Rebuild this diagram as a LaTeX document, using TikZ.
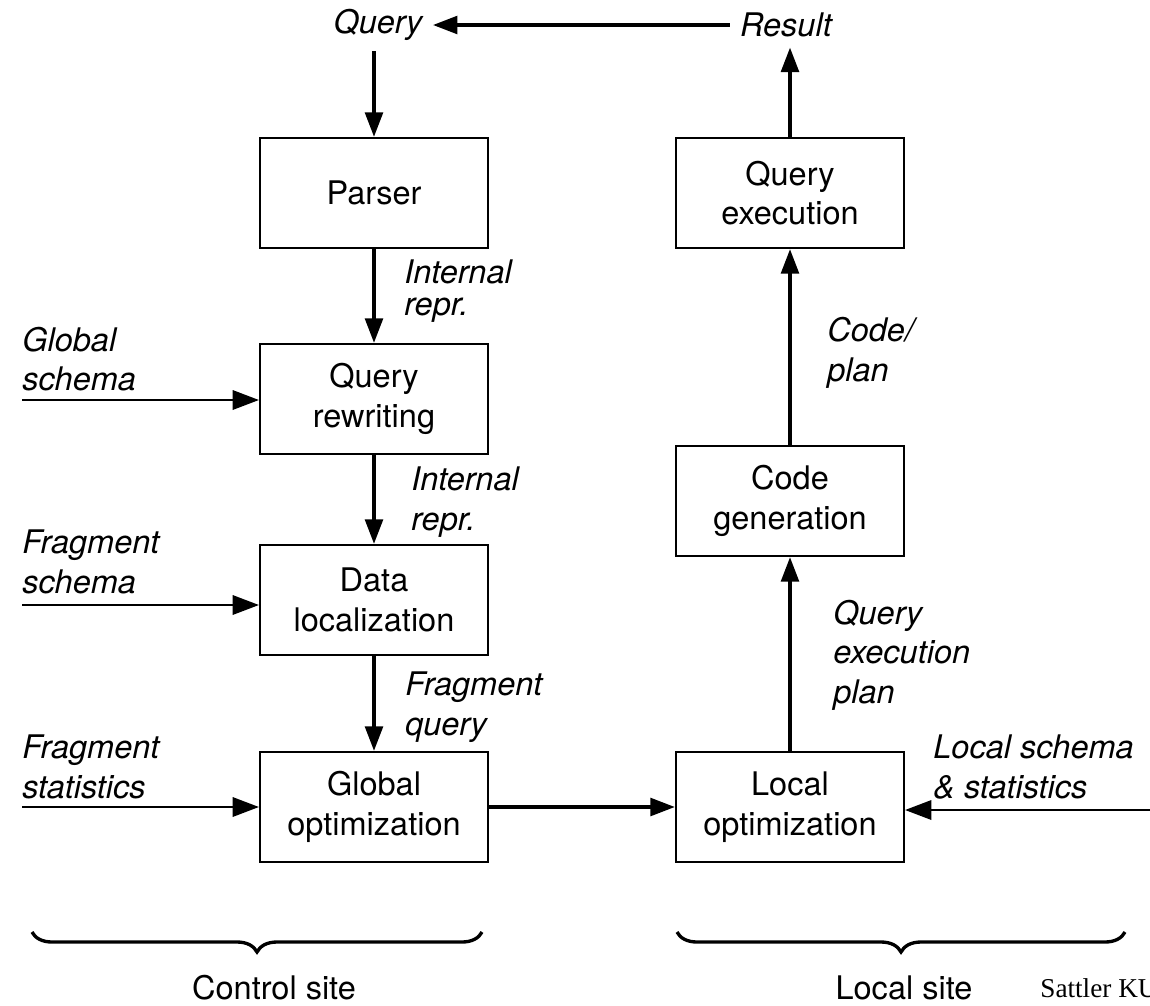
\documentclass[tikz,border=0pt]{standalone}
\usepackage{fontspec}
\setmainfont{TeX Gyre Heros}
\newfontfamily\notefont{Liberation Serif}
\usetikzlibrary{arrows.meta,positioning,decorations.pathreplacing}

\newcommand{\boxsize}{\fontsize{18.5}{22.5}\selectfont}

\tikzset{
  stage/.style={draw, line width=1.2pt, minimum width=4.56cm, minimum height=2.2cm,
    align=center, inner sep=0pt, font=\boxsize},
  flow/.style={line width=2.2pt, -{Triangle[length=14pt,width=10pt]}},
  feed/.style={line width=1.4pt, -{Triangle[length=15pt,width=11pt]}},
  tag/.style={font=\boxsize\itshape, align=left, anchor=west, inner sep=0pt},
  sitebrace/.style={line width=1.9pt, decorate, decoration={brace, mirror, amplitude=0.4cm}},
}

\begin{document}
\begin{tikzpicture}[x=0.02cm, y=-0.02cm]
  \useasboundingbox (0,0) rectangle (1150,1005);

  % control site
  \node[stage] (parser)   at (374,193) {Parser};
  \node[stage] (rewrite)  at (374,399) {Query\\rewriting};
  \node[stage] (localize) at (374,600) {Data\\localization};
  \node[stage] (globopt)  at (374,807) {Global\\optimization};

  % local site
  \node[stage] (qexec)   at (790,193) {Query\\execution};
  \node[stage] (codegen) at (790,501) {Code\\generation};
  \node[stage] (locopt)  at (790,807) {Local\\optimization};

  % query in, result out
  \node[font=\boxsize\itshape, inner sep=0.2cm] (query)  at (378,25) {Query};
  \node[font=\boxsize\itshape, inner sep=0.2cm] (result) at (786,25) {Result};
  \draw[flow] (result) -- (query);
  \draw[flow] (parser.north |- query.south) -- (parser.north);
  \draw[flow] (qexec.north) -- (qexec.north |- result.south);

  % main flow
  \draw[flow] (parser) -- (rewrite);
  \draw[flow] (rewrite) -- (localize);
  \draw[flow] (localize) -- (globopt);
  \draw[flow] (globopt) -- (locopt);
  \draw[flow] (locopt) -- (codegen);
  \draw[flow] (codegen) -- (qexec);

  \node[tag] (irepr1) at (404,291) {Internal\\[-4.5pt]repr.};
  \node[tag] (irepr2) at (411,502) {Internal\\repr.};
  \node[tag] (fquery) at (405,707) {Fragment\\query};
  \node[tag] (qplan)  at (833,655) {Query\\execution\\plan};
  \node[tag] (cplan)  at (827,353) {Code/\\plan};

  % side inputs
  \coordinate (gsin) at (22,400);
  \coordinate (fsin) at (22,605);
  \coordinate (fstin) at (22,807);
  \coordinate (lsin) at (1150,810);
  \node[tag] (gschema) at (22,359) {Global\\schema};
  \node[tag] (fschema) at (22,562) {Fragment\\schema};
  \node[tag] (fstats)  at (22,767) {Fragment\\statistics};
  \node[tag] (lstats)  at (933,767) {Local schema\\\& statistics};
  \draw[feed] (gsin) -- (gsin -| rewrite.west);
  \draw[feed] (fsin) -- (fsin -| localize.west);
  \draw[feed] (fstin) -- (fstin -| globopt.west);
  \draw[feed] (lsin) -- (lsin -| locopt.east);

  % sites
  \draw[sitebrace] (32,932) -- (482,932);
  \draw[sitebrace] (677,932) -- (1125,932);
  \node[font=\boxsize] (ctrl) at (274,988) {Control site};
  \node[font=\boxsize] (loc)  at (904,988) {Local site};
  \node[font=\notefont\fontsize{15.5}{18}\selectfont, anchor=west, inner sep=0pt] (credit) at (1040,988) {Sattler KU};
\end{tikzpicture}
\end{document}
